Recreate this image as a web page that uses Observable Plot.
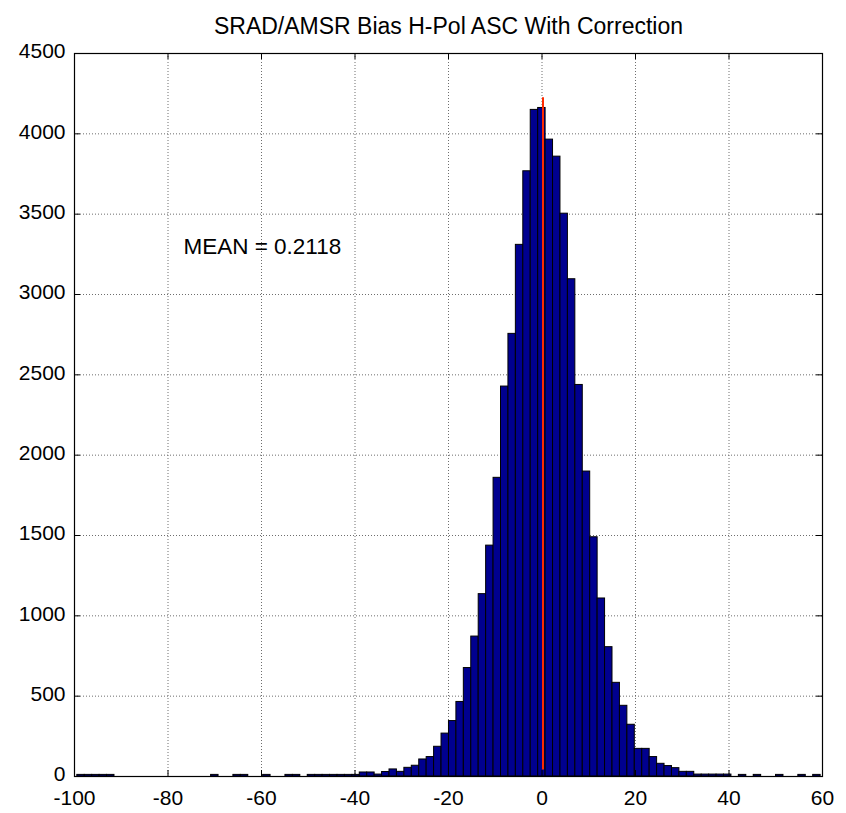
<!DOCTYPE html>
<html><head><meta charset="utf-8">
<script src="https://cdn.jsdelivr.net/npm/d3@7"></script>
<script src="https://cdn.jsdelivr.net/npm/@observablehq/plot@0.6"></script>
<style>
body{margin:0;background:#fff;}
svg{font-family:"Liberation Sans",Arial,Helvetica,sans-serif;}
</style></head><body><div id="chart"></div>
<script>
const title = "SRAD/AMSR Bias H-Pol ASC With Correction";
const binStart = -99.4;
const binWidth = 1.59;
const counts = [
  10,10,10,10,10, 0,0,0,0,0, 0,0,0,0,0, 0,0,0,10,0,
  0,10,10,0,0, 10,0,0,10,10, 0,10,10,10,10, 10,10,10,25,25,
  12,28,44,29,54, 67,106,121,185,267, 345,464,675,871,1135, 1437,1859,2427,2755,3309,
  3767,4149,4161,3964,3858, 3503,3095,2437,1898,1489, 1108,805,583,440,322, 172,172,121,79,65,
  52,29,29,12,12, 12,12,12,0,10, 0,10,0,0,10, 0,0,10,0,10
];
const meanValue = 0.2118;
const meanLabel = "MEAN = 0.2118";
const meanLineRange = [40, 4225];
const xTicks = [-100, -80, -60, -40, -20, 0, 20, 40, 60];
const yTicks = [0, 500, 1000, 1500, 2000, 2500, 3000, 3500, 4000, 4500];
const xGrid = [-80, -60, -40, -20, 0, 20, 40];
const yGrid = [500, 1000, 1500, 2000, 2500, 3000, 3500, 4000];

const bins = counts.map((c, i) => ({x1: binStart + i * binWidth, x2: binStart + (i + 1) * binWidth, count: c}))
  .filter(d => d.count > 0);

const W = 846, H = 813, mT = 53, mB = 37, mL = 74, mR = 24;
const frameH = H - mT - mB, frameW = W - mL - mR;
const tickLen = 6;

const plot = Plot.plot({
  width: W, height: H,
  marginTop: mT, marginBottom: mB, marginLeft: mL, marginRight: mR,
  x: {domain: [-100, 60], axis: null},
  y: {domain: [0, 4500], axis: null},
  style: {background: "#fff", color: "#000"},
  marks: [
    Plot.ruleX(xGrid, {x: d => d, stroke: "#6e6e6e", strokeDasharray: "1,2", strokeWidth: 1}),
    Plot.ruleY(yGrid, {y: d => d, stroke: "#6e6e6e", strokeDasharray: "1,2", strokeWidth: 1}),
    Plot.rectY(bins, {x1: "x1", x2: "x2", y: "count", fill: "#00008f", stroke: "#000", strokeWidth: 1}),
    Plot.ruleX([meanValue], {x: d => d, y1: meanLineRange[0], y2: meanLineRange[1], stroke: "#ff2a00", strokeWidth: 2}),
    Plot.tickX(xTicks, {x: d => d, insetTop: frameH - tickLen, stroke: "#000"}),
    Plot.tickX(xTicks, {x: d => d, insetBottom: frameH - tickLen, stroke: "#000"}),
    Plot.tickY(yTicks, {y: d => d, insetRight: frameW - tickLen, stroke: "#000"}),
    Plot.tickY(yTicks, {y: d => d, insetLeft: frameW - tickLen, stroke: "#000"}),
    Plot.frame({stroke: "#000", strokeWidth: 1.2}),
    Plot.axisX(xTicks, {tickSize: 0, tickPadding: 13.5, fontSize: 21, label: null, tickFormat: d => String(d)}),
    Plot.axisY(yTicks, {tickSize: 0, tickPadding: 9, dy: -2, fontSize: 21, label: null, tickFormat: d => String(d)}),
    Plot.text([meanLabel], {x: -76.7, y: 3300, text: d => d, textAnchor: "start", lineAnchor: "middle", fontSize: 22.5, fill: "#000"}),
    Plot.text([title], {frameAnchor: "top", dy: -20, lineAnchor: "bottom", text: d => d, fontSize: 23, fill: "#000"})
  ]
});
document.getElementById("chart").appendChild(plot);
</script></body></html>
